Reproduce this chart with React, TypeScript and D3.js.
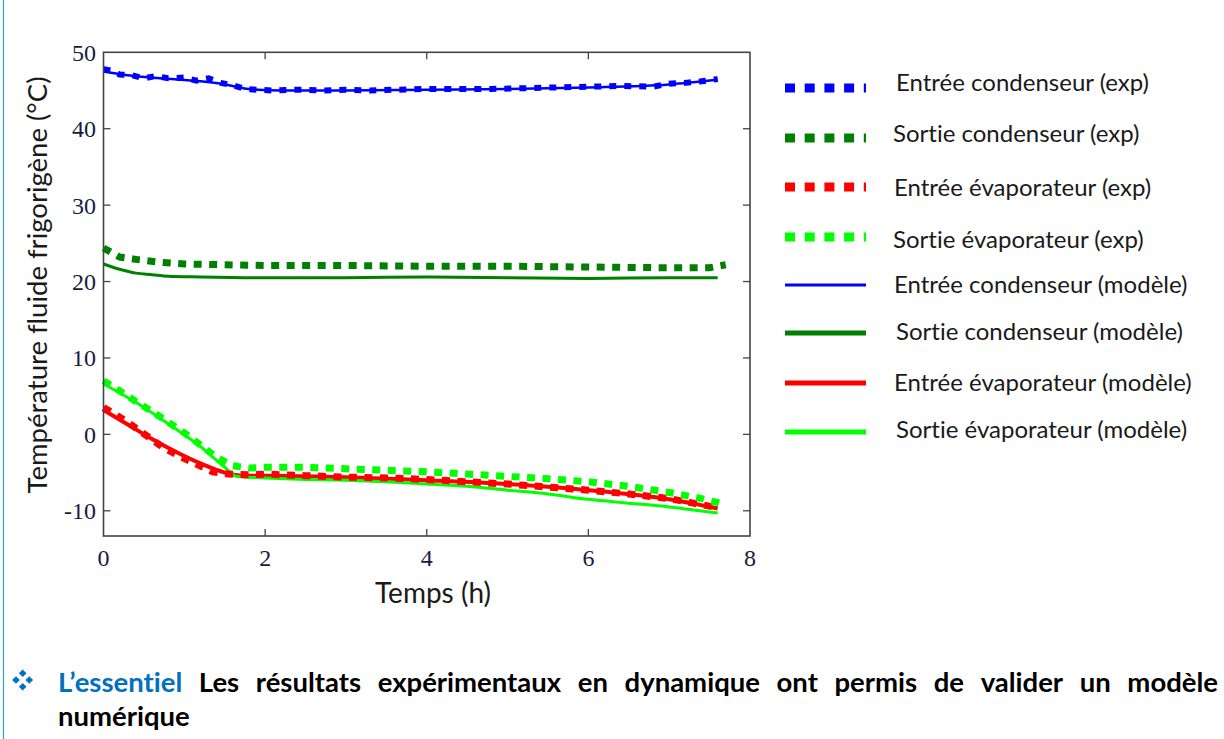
import React, { useLayoutEffect, useRef } from "react";
import * as d3 from "d3";

// ---------- data ----------
const xTicks = [0, 2, 4, 6, 8];
const yTicks = [-10, 0, 10, 20, 30, 40, 50];

const entreeCondExp: [number, number][] = [
  [0, 47.8], [0.1, 47.6], [0.2, 47.1], [0.35, 47.0], [0.5, 46.6], [0.65, 46.9], [0.8, 46.6], [1.0, 46.7],
  [1.15, 46.3], [1.3, 46.6], [1.45, 46.0], [1.6, 45.7], [1.75, 45.2], [1.9, 45.1], [2.1, 45.0], [2.4, 45.1],
  [2.7, 45.0], [3.0, 45.1], [3.3, 45.0], [3.6, 45.1], [4.0, 45.2], [4.4, 45.2], [4.8, 45.2], [5.2, 45.3],
  [5.6, 45.4], [6.0, 45.5], [6.4, 45.6], [6.8, 45.5], [7.0, 45.9], [7.2, 46.0], [7.4, 46.2], [7.6, 46.5],
];
const sortieCondExp: [number, number][] = [
  [0, 24.4], [0.2, 23.2], [0.4, 22.9], [0.7, 22.5], [1.0, 22.3], [1.5, 22.2], [2.0, 22.1], [3.0, 22.1],
  [4.0, 22.0], [5.0, 22.0], [6.0, 21.9], [7.0, 21.8], [7.5, 21.8], [7.7, 22.2],
];
const entreeEvapExp: [number, number][] = [
  [0, 3.5], [0.15, 2.6], [0.35, 1.2], [0.55, -0.3], [0.75, -1.8], [0.95, -2.9], [1.15, -3.9], [1.35, -4.9],
  [1.55, -5.2], [1.8, -5.3], [2.0, -5.2], [2.5, -5.4], [3.0, -5.6], [3.5, -5.7], [4.0, -5.9], [4.5, -6.2],
  [5.0, -6.5], [5.5, -6.9], [6.0, -7.3], [6.5, -7.8], [7.0, -8.4], [7.3, -9.0], [7.6, -9.6],
];
const sortieEvapExp: [number, number][] = [
  [0, 7.0], [0.2, 5.7], [0.4, 4.3], [0.6, 3.0], [0.8, 1.6], [1.0, 0.2], [1.2, -1.4], [1.4, -3.0],
  [1.6, -4.1], [1.8, -4.4], [2.0, -4.3], [2.5, -4.3], [3.0, -4.5], [3.5, -4.7], [4.0, -4.9], [4.5, -5.2],
  [5.0, -5.5], [5.5, -5.8], [6.0, -6.2], [6.5, -6.8], [7.0, -7.6], [7.4, -8.4], [7.7, -9.2],
];
const entreeCondMod: [number, number][] = [
  [0, 47.5], [0.3, 47.0], [0.7, 46.6], [1.2, 46.2], [1.5, 45.8], [1.8, 45.2], [2.2, 45.0], [3.0, 45.0],
  [4.0, 45.1], [5.0, 45.2], [6.0, 45.4], [7.0, 45.8], [7.6, 46.4],
];
const sortieCondMod: [number, number][] = [
  [0, 22.3], [0.2, 21.6], [0.4, 21.1], [0.6, 20.9], [0.8, 20.7], [1.2, 20.6], [2.0, 20.5], [3.0, 20.5],
  [4.0, 20.6], [5.0, 20.5], [6.0, 20.4], [7.0, 20.5], [7.6, 20.5],
];
const entreeEvapMod: [number, number][] = [
  [0, 3.2], [0.3, 1.3], [0.6, -0.6], [0.9, -2.3], [1.2, -3.8], [1.5, -5.0], [1.7, -5.4], [2.0, -5.4],
  [3.0, -5.6], [4.0, -6.0], [5.0, -6.5], [6.0, -7.3], [7.0, -8.5], [7.6, -9.7],
];
const sortieEvapMod: [number, number][] = [
  [0, 6.6], [0.4, 4.2], [0.8, 1.4], [1.2, -1.6], [1.5, -4.3], [1.65, -5.5], [2.0, -5.7], [2.5, -5.9],
  [3.0, -6.0], [3.5, -6.2], [4.0, -6.5], [4.5, -6.8], [5.0, -7.3], [5.5, -7.8], [6.0, -8.5], [6.5, -9.0],
  [7.0, -9.5], [7.3, -9.9], [7.6, -10.3],
];

const legendLabels = [
  "Entrée condenseur (exp)",
  "Sortie condenseur (exp)",
  "Entrée évaporateur (exp)",
  "Sortie évaporateur (exp)",
  "Entrée condenseur (modèle)",
  "Sortie condenseur (modèle)",
  "Entrée évaporateur (modèle)",
  "Sortie évaporateur (modèle)",
];

const bottomWords = ["L’essentiel", "Les", "résultats", "expérimentaux", "en", "dynamique", "ont", "permis", "de", "valider", "un", "modèle"];
const bottomLine2 = "numérique";

// ---------- styles ----------
const C_BLUE = "#0000ff";
const C_DGREEN = "#008000";
const C_RED = "#ff0000";
const C_LGREEN = "#00ff00";

const series = [
  { data: entreeCondExp, color: C_BLUE, width: 6, dash: "7 8", exp: true },
  { data: sortieCondExp, color: C_DGREEN, width: 7, dash: "8 7.5", exp: true },
  { data: entreeEvapExp, color: C_RED, width: 7, dash: "8 7.5", exp: true },
  { data: sortieEvapExp, color: C_LGREEN, width: 7, dash: "8 7.5", exp: true },
  { data: entreeCondMod, color: C_BLUE, width: 2.5, dash: null, exp: false },
  { data: sortieCondMod, color: C_DGREEN, width: 3, dash: null, exp: false },
  { data: entreeEvapMod, color: C_RED, width: 4, dash: null, exp: false },
  { data: sortieEvapMod, color: C_LGREEN, width: 3, dash: null, exp: false },
];

const legendSampleY = [88, 138, 187, 237, 285, 333, 383, 432];
const legendTextY = [83, 134, 188, 240, 285, 332, 383, 430];
const legendTextX = [896, 893, 894, 893, 894, 896, 894, 896];
const legendWidths = [9, 9, 9, 9, 3, 5, 5, 5];

const W = 1224;
const H = 739;
const X0 = 103.5, X1 = 750, Y0 = 536, Y1 = 52.3;
const SANS = "Lato, 'Open Sans', sans-serif";

function JustifiedLine({ words, x0, x1, y }: { words: string[]; x0: number; x1: number; y: number }) {
  const ref = useRef<SVGGElement>(null);
  useLayoutEffect(() => {
    const g = d3.select(ref.current);
    g.selectAll("*").remove();
    const texts = words.map((w, i) =>
      g.append("text")
        .attr("y", y)
        .attr("font-family", SANS)
        .attr("font-weight", "bold")
        .attr("font-size", 27.5)
        .style("font-variant-ligatures", "none")
        .attr("fill", i === 0 ? "#0070c0" : "#000")
        .text(w)
    );
    const widths = texts.map((t) => (t.node() as SVGTextElement).getComputedTextLength());
    const total = d3.sum(widths);
    const gap = (x1 - x0 - total) / (words.length - 1);
    let cx = x0;
    texts.forEach((t, i) => {
      t.attr("x", cx);
      cx += widths[i] + gap;
    });
  }, [words, x0, x1, y]);
  return <g ref={ref} />;
}

export default function App() {
  const x = d3.scaleLinear().domain([0, 8]).range([X0, X1]);
  const y = d3.scaleLinear().domain([-13.3, 50]).range([Y0, Y1]);
  const lineLin = d3.line<[number, number]>().x((d) => x(d[0])).y((d) => y(d[1]));
  const lineSmooth = d3.line<[number, number]>().x((d) => x(d[0])).y((d) => y(d[1])).curve(d3.curveMonotoneX);

  const axisColor = "#444";
  const tickColor = "#1a1a40";
  const tickLen = 7;

  return (
    <svg width={W} height={H} style={{ position: "absolute", left: 0, top: 0, background: "#fff", fontVariantLigatures: "none" }}>
      <rect x={0} y={0} width={W} height={H} fill="#fff" />
      <line x1={3.5} x2={3.5} y1={0} y2={H} stroke="#2aa0d8" strokeWidth={1.2} />

      {/* series: model lines under exp squares */}
      {series.filter((s) => !s.exp).map((s, i) => (
        <path key={"m" + i} d={lineSmooth(s.data) || ""} fill="none" stroke={s.color} strokeWidth={s.width} />
      ))}
      {series.filter((s) => s.exp).map((s, i) => (
        <path key={"e" + i} d={lineLin(s.data) || ""} fill="none" stroke={s.color} strokeWidth={s.width} strokeDasharray={s.dash || undefined} />
      ))}

      {/* frame */}
      <rect x={X0} y={Y1} width={X1 - X0} height={Y0 - Y1} fill="none" stroke={axisColor} strokeWidth={1.6} />
      {yTicks.map((t) => (
        <g key={"yt" + t}>
          {t !== 50 && <line x1={X0} x2={X0 + tickLen} y1={y(t)} y2={y(t)} stroke={axisColor} strokeWidth={1.3} />}
          {t !== 50 && <line x1={X1} x2={X1 - tickLen} y1={y(t)} y2={y(t)} stroke={axisColor} strokeWidth={1.3} />}
          <text x={96} y={y(t)} dy="0.35em" textAnchor="end" fontFamily="'Liberation Serif', 'Times New Roman', serif" fontSize={24} fill={tickColor}>
            {t}
          </text>
        </g>
      ))}
      {xTicks.map((t) => (
        <g key={"xt" + t}>
          {t !== 0 && t !== 8 && <line x1={x(t)} x2={x(t)} y1={Y0} y2={Y0 - tickLen} stroke={axisColor} strokeWidth={1.3} />}
          {t !== 0 && t !== 8 && <line x1={x(t)} x2={x(t)} y1={Y1} y2={Y1 + tickLen} stroke={axisColor} strokeWidth={1.3} />}
          <text x={x(t)} y={566} textAnchor="middle" fontFamily="'Liberation Serif', 'Times New Roman', serif" fontSize={24} fill={tickColor}>
            {t}
          </text>
        </g>
      ))}

      {/* axis titles */}
      <text x={433} y={603} textAnchor="middle" fontFamily={SANS} fontSize={28} fill="#1a1a1a">
        Temps (h)
      </text>
      <text transform="translate(47,285) rotate(-90)" textAnchor="middle" fontFamily={SANS} fontSize={27.5} fill="#1a1a1a">
        Température fluide frigorigène (°C)
      </text>

      {/* legend */}
      {legendLabels.map((lab, i) => {
        const s = series[i];
        return (
          <g key={"lg" + i}>
            <line
              x1={785} x2={866} y1={legendSampleY[i]} y2={legendSampleY[i]}
              stroke={s.color} strokeWidth={legendWidths[i]}
              strokeDasharray={s.exp ? "10 9.7" : undefined}
            />
            <text x={legendTextX[i]} y={legendTextY[i]} dy="0.35em" fontFamily={SANS} fontSize={24} fill="#1a1a1a">
              {lab}
            </text>
          </g>
        );
      })}

      {/* bottom note */}
      <g fill="#0070c0">
        {[[16, 680], [22.7, 673.3], [29.3, 680], [22.7, 686.7]].map(([cx, cy], i) => (
          <path key={"dm" + i} d={`M${cx} ${cy - 3.8} L${cx + 3.8} ${cy} L${cx} ${cy + 3.8} L${cx - 3.8} ${cy} Z`} />
        ))}
      </g>
      <JustifiedLine words={bottomWords} x0={58} x1={1218} y={692} />
      <text x={58} y={726} fontFamily={SANS} fontWeight="bold" fontSize={27.5} fill="#000">
        {bottomLine2}
      </text>
    </svg>
  );
}
